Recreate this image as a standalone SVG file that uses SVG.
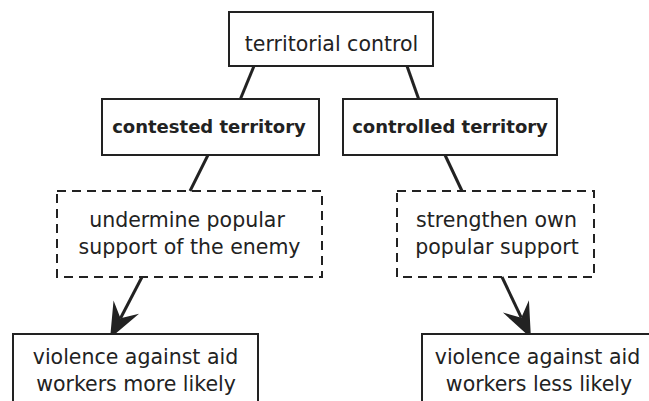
<svg xmlns="http://www.w3.org/2000/svg" width="649" height="401" viewBox="0 0 649 401">
<style>
.box{fill:#fff;stroke:#222;stroke-width:2}
.dash{fill:none;stroke:#222;stroke-width:2;stroke-dasharray:9,6}
.t{font-family:"DejaVu Sans",sans-serif;font-size:20.5px;fill:#222;text-anchor:middle}
.b{font-family:"DejaVu Sans",sans-serif;font-size:18px;font-weight:bold;fill:#222;text-anchor:middle}
.c{stroke:#222;stroke-width:3;fill:none}
</style>
<defs>
<marker id="ah" markerUnits="userSpaceOnUse" orient="auto" markerWidth="40" markerHeight="40" viewBox="-12 -14 32 28" refX="0" refY="0">
<path d="M18,0 L-10,-11.5 L0,0 L-10,11.5 Z" fill="#222"/>
</marker>
</defs>
<g id="connectors">
<line class="c" x1="254" y1="66" x2="240" y2="100"/>
<line class="c" x1="407" y1="66" x2="419" y2="100"/>
<line class="c" x1="208" y1="155" x2="190" y2="191"/>
<line class="c" x1="445" y1="155" x2="462" y2="191"/>
<line class="c" x1="142" y1="277" x2="120.5" y2="318.2" marker-end="url(#ah)"/>
<line class="c" x1="502" y1="277" x2="521.3" y2="317.7" marker-end="url(#ah)"/>
</g>
<g id="territorial-control">
<rect class="box" x="229" y="12" width="204" height="54"/>
<text class="t" x="331.5" y="51">territorial control</text>
</g>
<g id="contested-territory">
<rect class="box" x="102" y="99" width="217" height="56"/>
<text class="b" x="209" y="133">contested territory</text>
</g>
<g id="controlled-territory">
<rect class="box" x="343" y="99" width="214" height="56"/>
<text class="b" x="450" y="133">controlled territory</text>
</g>
<g id="undermine">
<rect class="dash" x="57" y="191" width="265" height="86"/>
<text class="t" x="187" y="227">undermine popular</text>
<text class="t" x="189.5" y="254">support of the enemy</text>
</g>
<g id="strengthen">
<rect class="dash" x="397" y="191" width="197" height="86"/>
<text class="t" x="496.5" y="227">strengthen own</text>
<text class="t" x="497" y="254">popular support</text>
</g>
<g id="more-likely">
<rect class="box" x="13" y="334" width="245" height="80"/>
<text class="t" x="135.5" y="364">violence against aid</text>
<text class="t" x="136" y="391">workers more likely</text>
</g>
<g id="less-likely">
<rect class="box" x="422" y="334" width="240" height="80"/>
<text class="t" x="537.5" y="364">violence against aid</text>
<text class="t" x="539" y="391">workers less likely</text>
</g>
</svg>
